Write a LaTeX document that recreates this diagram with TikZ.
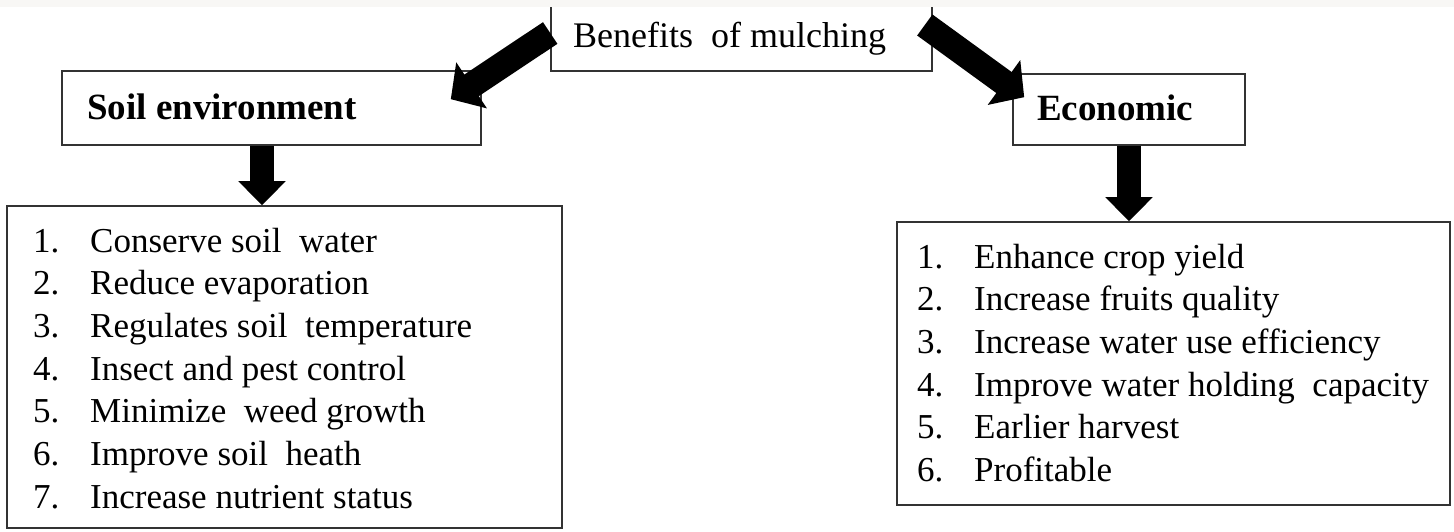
\documentclass[tikz,border=0pt]{standalone}
\usepackage{fontspec}
\setmainfont{Liberation Serif}
\usetikzlibrary{arrows.meta,calc}
\definecolor{strip}{HTML}{F8F7F5}
\definecolor{edge}{HTML}{333333}
\begin{document}
\begin{tikzpicture}[x=1pt,y=-1pt,
  box/.style={draw=edge,line width=1.6pt,fill=white,inner sep=0pt},
  diagarrow/.style={line width=26pt,-{Triangle[length=25pt,width=54pt]}},
  downarrow/.style={line width=24pt,-{Triangle[length=24pt,width=46pt]}},
  headtext/.style={inner sep=0pt,anchor=base west,font=\bfseries\fontsize{37}{40}\selectfont},
  listtext/.style={inner sep=0pt,anchor=base west,font=\fontsize{35}{42.7}\selectfont}]
\useasboundingbox (0,0) rectangle (1454,532);
\fill[white] (0,0) rectangle (1454,532);
% boxes
\node[box,minimum width=381pt,minimum height=80pt] (ben) at (741.5,31) {};
\node[inner sep=0pt,anchor=base west,font=\fontsize{36}{40}\selectfont] (bentxt) at (573,48) {Benefits\ \ of mulching};
\node[box,minimum width=419pt,minimum height=74pt] (soil) at (271.5,108) {};
\node[headtext] (soiltxt) at (87,120) {Soil environment};
\node[box,minimum width=232pt,minimum height=71pt] (econ) at (1129,109.5) {};
\node[headtext] (econtxt) at (1037,121) {Economic};
\node[box,minimum width=555pt,minimum height=322pt] (soillist) at (284.5,367) {};
\node[listtext] (soiltext) at (33,252) {\begin{tabular}[t]{@{}p{57pt}@{}l@{}}
1. & Conserve soil\ \ water\\
2. & Reduce evaporation\\
3. & Regulates soil\ \ temperature\\
4. & Insect and pest control\\
5. & Minimize\ \ weed growth\\
6. & Improve soil\ \ heath\\
7. & Increase nutrient status
\end{tabular}};
\node[box,minimum width=553pt,minimum height=283pt] (econlist) at (1173.5,363.5) {};
\node[listtext] (econtext) at (917,268) {\begin{tabular}[t]{@{}p{57pt}@{}l@{}}
1. & Enhance crop yield\\
2. & Increase fruits quality\\
3. & Increase water use efficiency\\
4. & Improve water holding\ \ capacity\\
5. & Earlier harvest\\
6. & Profitable
\end{tabular}};
% arrows
\draw[diagarrow] ([yshift=-2pt]ben.west) -- ([xshift=-31pt,yshift=-29pt]soil.north east);
\draw[diagarrow] ([xshift=-8pt,yshift=6pt]ben.east) -- ([xshift=12pt,yshift=-24pt]econ.north west);
\draw[downarrow] ([xshift=-9.5pt]soil.south) -- ([xshift=-9.5pt]soil.south |- soillist.north);
\draw[downarrow] (econ.south) -- (econ.south |- econlist.north);
% cropped top strip
\fill[strip] (0,0) rectangle (1454,7);
\end{tikzpicture}
\end{document}
